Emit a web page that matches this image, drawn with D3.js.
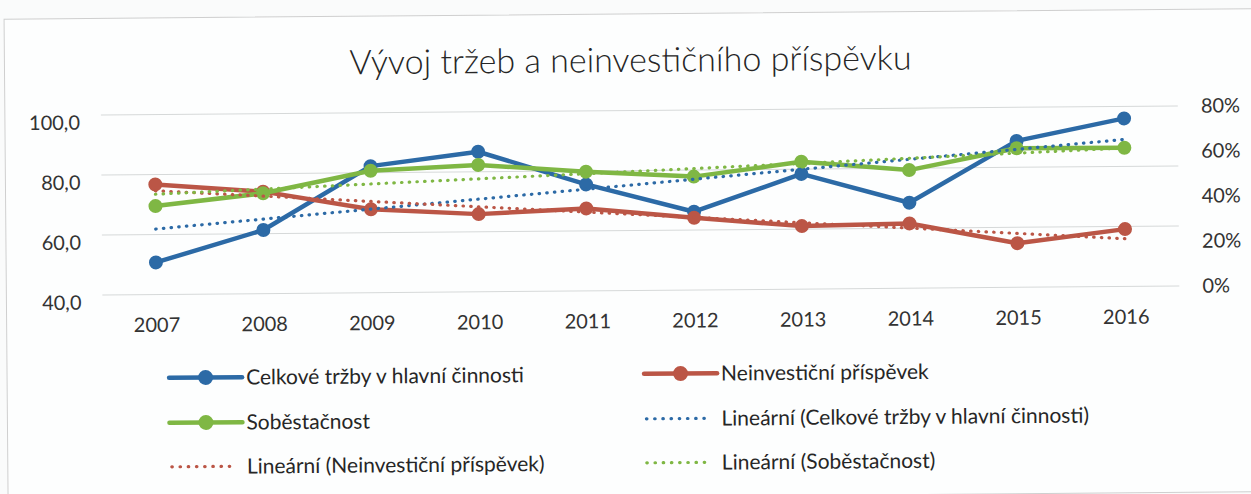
<!DOCTYPE html>
<html>
<head>
<meta charset="utf-8">
<script src="https://cdn.jsdelivr.net/npm/d3@7"></script>
<style>
  body { margin: 0; background: #fafbfb; }
  svg { display: block; font-family: Lato, "Open Sans", sans-serif; }
</style>
</head>
<body>
<div id="chart"></div>
<script>
// values
const years = ["2007", "2008", "2009", "2010", "2011", "2012", "2013", "2014", "2015", "2016"];
const trzby = [50.7, 61.2, 82.2, 86.7, 75.5, 66.1, 78.4, 68.5, 88.8, 96.0];
const prispevek = [76.7, 74.0, 67.8, 65.9, 67.5, 64.1, 61.0, 61.6, 54.7, 59.1];
const sobestacnost = [0.393, 0.446, 0.542, 0.564, 0.530, 0.504, 0.566, 0.525, 0.618, 0.616];
const leftTicks = [40, 60, 80, 100];
const rightTicks = [0, 0.2, 0.4, 0.6, 0.8];

const title = "Vývoj tržeb a neinvestičního příspěvku";
const blue = "#2c6aa6", red = "#bb5646", green = "#7fb744";

function drawChart() {
    const width = 1251, height = 494;

    const svg = d3.select("#chart").append("svg")
        .attr("width", width)
        .attr("height", height);

    // the scan is a little tilted, so is this
    const g = svg.append("g").attr("transform", "rotate(-0.48, 625, 247)");

    g.append("rect")
        .attr("x", 6).attr("y", 14)
        .attr("width", 1260).attr("height", 483)
        .attr("fill", "#fdfefe")
        .attr("stroke", "#cfcfcf");

    const x = d3.scalePoint().domain(years).range([102, 1179]).padding(0.5);
    const y = d3.scaleLinear().domain([40, 100]).range([290.6, 110.6]);
    const y2 = d3.scaleLinear().domain([0, 0.8]).range([290.6, 110.6]);

    g.append("text")
        .attr("x", 632).attr("y", 72)
        .attr("text-anchor", "middle")
        .attr("font-size", 34)
        .attr("font-weight", 300)
        .attr("fill", "#262626")
        .text(title);

    // gridlines
    g.append("g").selectAll("line")
        .data(leftTicks)
        .join("line")
        .attr("x1", 102).attr("x2", 1179)
        .attr("y1", d => y(d)).attr("y2", d => y(d))
        .attr("stroke", "#d6d9d9")
        .attr("stroke-width", 1);

    // left axis
    const yAxis = g.append("g")
        .attr("transform", "translate(81,0)")
        .call(d3.axisLeft(y).tickValues(leftTicks).tickSize(0).tickPadding(0)
            .tickFormat(d => d3.format(".1f")(d).replace(".", ",")));
    yAxis.select(".domain").remove();
    yAxis.selectAll("text")
        .attr("font-size", 20).attr("fill", "#333")
        .attr("font-family", "Lato").attr("dy", "0.7em");

    // right axis
    const y2Axis = g.append("g")
        .attr("transform", "translate(1202,0)")
        .call(d3.axisRight(y2).tickValues(rightTicks).tickSize(0).tickPadding(0)
            .tickFormat(d3.format(".0%")));
    y2Axis.select(".domain").remove();
    y2Axis.selectAll("text")
        .attr("font-size", 20).attr("fill", "#333")
        .attr("font-family", "Lato");

    // x axis
    const xAxis = g.append("g")
        .attr("transform", "translate(0,309)")
        .call(d3.axisBottom(x).tickSize(0).tickPadding(0));
    xAxis.select(".domain").remove();
    xAxis.selectAll("text")
        .attr("font-size", 20).attr("fill", "#333")
        .attr("font-family", "Lato").attr("dy", "0.95em");

    const series = [
        {name: "Celkové tržby v hlavní činnosti", values: trzby, scale: y, color: blue},
        {name: "Neinvestiční příspěvek", values: prispevek, scale: y, color: red},
        {name: "Soběstačnost", values: sobestacnost, scale: y2, color: green}
    ];

    series.forEach(function (s) {
        const pts = years.map((yr, i) => [yr, s.values[i]]);
        g.append("path")
            .datum(pts)
            .attr("fill", "none")
            .attr("stroke", s.color)
            .attr("stroke-width", 4.5)
            .attr("stroke-linejoin", "round")
            .attr("d", d3.line().x(d => x(d[0])).y(d => s.scale(d[1])));
        g.append("g").selectAll("circle")
            .data(pts)
            .join("circle")
            .attr("cx", d => x(d[0]))
            .attr("cy", d => s.scale(d[1]))
            .attr("r", 7)
            .attr("fill", s.color);
    });

    // linear trend lines (least squares, like Excel)
    function linFit(vals) {
        const n = vals.length;
        const mx = (n - 1) / 2;
        const my = d3.mean(vals);
        let sxy = 0, sxx = 0;
        vals.forEach((v, i) => { sxy += (i - mx) * (v - my); sxx += (i - mx) * (i - mx); });
        const b = sxy / sxx;
        return [my - b * mx, my + b * (n - 1 - mx)];
    }

    series.forEach(function (s) {
        const f = linFit(s.values);
        g.append("line")
            .attr("x1", x(years[0])).attr("y1", s.scale(f[0]))
            .attr("x2", x(years[years.length - 1])).attr("y2", s.scale(f[1]))
            .attr("stroke", s.color)
            .attr("stroke-width", 3.2)
            .attr("stroke-linecap", "round")
            .attr("stroke-dasharray", "0.5 7.2");
    });

    // legend
    const legendItems = [
        {label: series[0].name, color: blue, dotted: false, col: 0, row: 0},
        {label: series[1].name, color: red, dotted: false, col: 1, row: 0},
        {label: series[2].name, color: green, dotted: false, col: 0, row: 1},
        {label: "Lineární (" + series[0].name + ")", color: blue, dotted: true, col: 1, row: 1},
        {label: "Lineární (" + series[1].name + ")", color: red, dotted: true, col: 0, row: 2},
        {label: "Lineární (" + series[2].name + ")", color: green, dotted: true, col: 1, row: 2}
    ];
    const colX = [168, 643];
    const rowY = [374, 419, 463];

    const leg = g.append("g").selectAll("g")
        .data(legendItems)
        .join("g")
        .attr("transform", d => "translate(" + colX[d.col] + "," + rowY[d.row] + ")");

    leg.append("line")
        .attr("x1", d => d.dotted ? 2 : 0)
        .attr("x2", d => d.dotted ? 66 : 73)
        .attr("y1", 0).attr("y2", 0)
        .attr("stroke", d => d.color)
        .attr("stroke-width", d => d.dotted ? 3.2 : 4.5)
        .attr("stroke-linecap", "round")
        .attr("stroke-dasharray", d => d.dotted ? "0.5 7.7" : null);

    leg.filter(d => !d.dotted).append("circle")
        .attr("cx", 36.5).attr("cy", 0).attr("r", 7.5)
        .attr("fill", d => d.color);

    leg.append("text")
        .attr("x", 77).attr("y", 0).attr("dy", "0.35em")
        .attr("font-size", 21)
        .attr("fill", "#262626")
        .text(d => d.label);
}

drawChart();
</script>
</body>
</html>
